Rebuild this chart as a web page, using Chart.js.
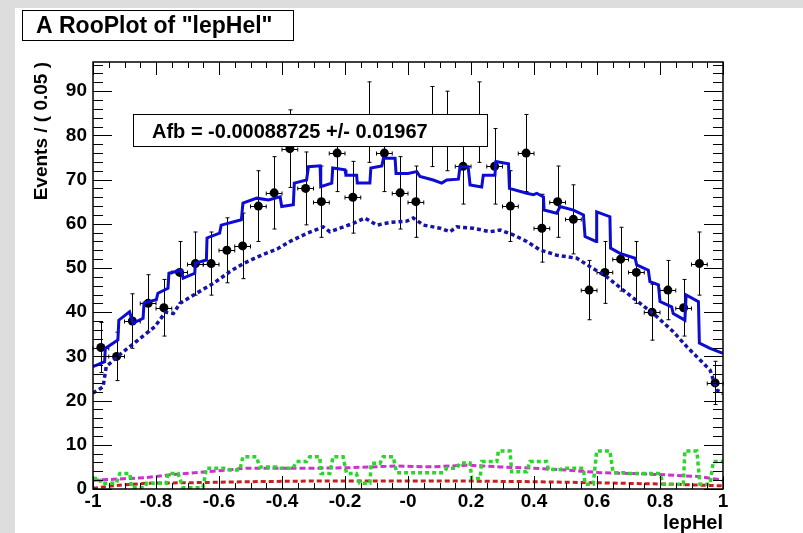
<!DOCTYPE html>
<html>
<head>
<meta charset="utf-8">
<script src="https://cdn.jsdelivr.net/npm/chart.js@4.4.1/dist/chart.umd.min.js"></script>
<style>
  html, body { margin: 0; padding: 0; width: 803px; height: 533px; overflow: hidden; background: #dddddd; }
  #pad { position: absolute; left: 15px; top: 8px; width: 788px; height: 525px; background: #fff; }
</style>
</head>
<body>
<div id="pad"><canvas id="lepHelPlot" width="788" height="525"></canvas></div>
<script>
// binned data (40 bins of 0.05 in lepHel)
const binCenters = [-0.975, -0.925, -0.875, -0.825, -0.775, -0.725, -0.675, -0.625, -0.575, -0.525,
  -0.475, -0.425, -0.375, -0.325, -0.275, -0.225, -0.175, -0.125, -0.075, -0.025,
  0.025, 0.075, 0.125, 0.175, 0.225, 0.275, 0.325, 0.375, 0.425, 0.475,
  0.525, 0.575, 0.625, 0.675, 0.725, 0.775, 0.825, 0.875, 0.925, 0.975];
const counts = [32, 30, 38, 42, 41, 49, 51, 51, 54, 55, 64, 67, 77, 68, 65, 76, 66, 83, 76, 67,
  65, 82, 81, 73, 83, 73, 64, 76, 59, 65, 61, 45, 49, 52, 49, 40, 45, 41, 51, 24];
const binWidth = 0.05;

// total pdf (solid blue)
const totalX = [-1.000, -0.963, -0.961, -0.921, -0.918, -0.884, -0.873, -0.841, -0.838, -0.799, -0.794, -0.762,
  -0.759, -0.720, -0.714, -0.677, -0.675, -0.640, -0.638, -0.598, -0.593, -0.529, -0.524, -0.480, -0.443,
  -0.406, -0.401, -0.364, -0.361, -0.322, -0.316, -0.279, -0.277, -0.242, -0.239, -0.200, -0.197, -0.163,
  -0.161, -0.121, -0.118, -0.083, -0.078, -0.041, -0.038, 0.000, 0.028, 0.038, 0.080, 0.107, 0.123, 0.160,
  0.165, 0.191, 0.197, 0.234, 0.239, 0.276, 0.279, 0.319, 0.322, 0.377, 0.398, 0.409, 0.430, 0.432, 0.472,
  0.483, 0.525, 0.557, 0.562, 0.597, 0.599, 0.641, 0.643, 0.673, 0.721, 0.726, 0.763, 0.768, 0.795, 0.800,
  0.837, 0.842, 0.879, 0.883, 0.922, 0.925, 0.959, 1.000];
const totalY = [27.7, 28.8, 31.8, 33.7, 38.2, 40.1, 37.5, 38.6, 42.1, 42.8, 44.3, 45.4,
  48.8, 49.5, 47.7, 48.8, 51.1, 51.8, 56.8, 57.9, 59.7, 60.9, 64.7, 65.8, 65.4,
  66.1, 63.9, 64.3, 69.2, 69.9, 72.9, 73.1, 68.4, 69.2, 72.6, 72.2, 71.0, 71.0,
  69.2, 69.2, 72.6, 73.1, 74.8, 74.8, 71.4, 71.4, 71.8, 70.7, 69.9, 69.2, 69.9, 70.1,
  72.9, 72.9, 68.8, 68.3, 71.0, 71.0, 74.1, 73.6, 68.0, 66.9, 66.6, 66.9, 66.1, 63.1, 62.4,
  63.9, 63.1, 62.0, 57.1, 56.0, 62.7, 61.6, 54.5, 53.3, 52.2, 50.7, 49.5, 46.9, 46.2, 42.4,
  41.2, 39.7, 38.2, 43.9, 42.4, 33.0, 31.8, 30.7];

// signal component (dotted blue)
const sigX = [-1.000, -0.968, -0.958, -0.910, -0.857, -0.804, -0.770, -0.745, -0.724, -0.671, -0.618, -0.565,
  -0.520, -0.465, -0.415, -0.375, -0.322, -0.269, -0.248, -0.216, -0.174, -0.137, -0.099, -0.057, -0.004,
  0.017, 0.049, 0.102, 0.133, 0.155, 0.207, 0.260, 0.292, 0.334, 0.377, 0.419, 0.472, 0.536, 0.578, 0.631,
  0.683, 0.737, 0.790, 0.842, 0.885, 0.927, 0.959, 0.980, 1.000];
const sigY = [21.7, 23.1, 27.7, 30.7, 33.7, 36.7, 40.0, 39.7, 42.0, 44.3, 46.5, 49.2,
  51.1, 52.9, 54.3, 56.0, 57.8, 59.3, 58.2, 59.0, 60.1, 61.3, 59.7, 60.3, 60.6,
  61.3, 59.7, 59.0, 58.2, 59.3, 59.0, 58.2, 58.6, 57.5, 56.0, 54.1, 52.9, 52.2, 50.3, 48.0,
  45.0, 42.0, 39.0, 35.6, 32.2, 29.2, 26.9, 22.4, 21.6];

// background components
const greenX = [-1.000, -0.979, -0.975, -0.926, -0.915, -0.883, -0.878, -0.836, -0.830, -0.767, -0.762, -0.730,
  -0.714, -0.651, -0.640, -0.576, -0.565, -0.534, -0.524, -0.481, -0.471, -0.418, -0.410, -0.365, -0.354,
  -0.322, -0.312, -0.280, -0.276, -0.248, -0.238, -0.206, -0.195, -0.164, -0.153, -0.121, -0.117, -0.089,
  -0.079, -0.047, -0.036, 0.112, 0.123, 0.155, 0.165, 0.197, 0.202, 0.229, 0.234, 0.282, 0.287, 0.324,
  0.329, 0.377, 0.387, 0.440, 0.446, 0.483, 0.493, 0.557, 0.562, 0.588, 0.599, 0.641, 0.651, 0.694,
  0.699, 0.800, 0.810, 0.874, 0.879, 0.917, 0.927, 0.959, 0.969, 1.000];
const greenY = [2.4, 2.4, 1.3, 1.3, 3.5, 3.5, 0.3, 0.3, 1.3, 1.3, 3.5, 3.5,
  0.3, 0.3, 4.7, 4.7, 4.3, 4.3, 7.3, 7.3, 5.0, 5.0, 4.7, 4.7, 6.2,
  6.2, 7.3, 7.3, 3.5, 3.5, 7.3, 7.3, 3.5, 3.5, 1.3, 1.3, 5.8, 5.8,
  7.3, 7.3, 3.7, 3.7, 4.7, 4.7, 5.9, 5.9, 2.4, 2.4, 6.2, 6.2, 8.6, 8.6,
  3.9, 3.9, 6.2, 6.2, 4.4, 4.4, 4.7, 4.7, 1.1, 1.1, 8.6, 8.6, 3.7, 3.7,
  3.5, 3.5, 1.1, 1.1, 8.6, 8.6, 1.1, 1.1, 6.2, 6.2];
const magX = [-1.000, -0.935, -0.830, -0.756, -0.640, -0.512, -0.301, -0.195, -0.036, 0.081, 0.186, 0.292,
  0.398, 0.504, 0.609, 0.715, 0.821, 0.927, 1.000];
const magY = [2.0, 2.2, 2.6, 3.2, 3.9, 4.7, 4.7, 4.8, 5.2, 5.0, 5.4, 5.0,
  4.7, 4.3, 3.7, 3.5, 3.2, 2.8, 2.0];
const redX = [-1.000, -0.935, -0.830, -0.724, -0.618, -0.512, -0.301, -0.089, 0.186, 0.398, 0.609, 0.821, 1.000];
const redY = [0.15, 0.75, 1.3, 1.4, 1.5, 1.65, 1.8, 1.8, 1.8, 1.65, 1.4, 1.1, 0.7];

const xTickLabels = ['-1', '-0.8', '-0.6', '-0.4', '-0.2', '-0', '0.2', '0.4', '0.6', '0.8', '1'];
const yTickLabels = ['0', '10', '20', '30', '40', '50', '60', '70', '80', '90'];

const plotTitle = 'A RooPlot of "lepHel"';
const afbText = 'Afb = -0.00088725 +/- 0.01967';
const FONT = "'Liberation Sans', Arial, Helvetica, sans-serif";

function pts(xs, ys) {
  return xs.map((v, i) => ({ x: v, y: ys[i] }));
}

function curve(xs, ys, color, dash, width) {
  return {
    data: pts(xs, ys),
    showLine: true,
    borderColor: color,
    borderWidth: width || 3,
    borderDash: dash,
    pointRadius: 0,
    fill: false,
    tension: 0,
  };
}

// data error bars go under everything
const errorBars = {
  id: 'errorBars',
  beforeDatasetsDraw(chart) {
    const { ctx, scales: { x, y } } = chart;
    ctx.save();
    ctx.strokeStyle = '#000';
    ctx.lineWidth = 1;
    ctx.beginPath();
    binCenters.forEach((c, i) => {
      const n = counts[i];
      const e = Math.sqrt(n);
      const px = Math.round(x.getPixelForValue(c)) + 0.5;
      const py = Math.round(y.getPixelForValue(n)) + 0.5;
      const top = y.getPixelForValue(n + e);
      const bot = y.getPixelForValue(n - e);
      const l = x.getPixelForValue(c - binWidth / 2);
      const r = x.getPixelForValue(c + binWidth / 2);
      ctx.moveTo(px, top); ctx.lineTo(px, bot);
      ctx.moveTo(px - 2, top); ctx.lineTo(px + 2, top);
      ctx.moveTo(px - 2, bot); ctx.lineTo(px + 2, bot);
      ctx.moveTo(l, py); ctx.lineTo(r, py);
      ctx.moveTo(l, py - 2); ctx.lineTo(l, py + 2);
      ctx.moveTo(r, py - 2); ctx.lineTo(r, py + 2);
    });
    ctx.stroke();
    ctx.restore();
  },
};

// ROOT style frame, inner ticks, title box and Afb box
const rootFrame = {
  id: 'rootFrame',
  afterDatasetsDraw(chart) {
    const { ctx, chartArea: a, scales: { x, y } } = chart;
    ctx.save();
    ctx.strokeStyle = '#000';
    ctx.lineWidth = 1;
    ctx.beginPath();
    for (let v = 0; v <= y.max; v += 2) {
      const py = Math.round(y.getPixelForValue(v)) + 0.5;
      const len = v % 10 === 0 ? 19 : 10;
      ctx.moveTo(a.left, py); ctx.lineTo(a.left + len, py);
      ctx.moveTo(a.right, py); ctx.lineTo(a.right - len, py);
    }
    for (let k = 0; k <= 40; k++) {
      const px = Math.round(x.getPixelForValue(-1 + k * 0.05)) + 0.5;
      const len = k % 4 === 0 ? 13 : 6;
      ctx.moveTo(px, a.bottom); ctx.lineTo(px, a.bottom - len);
      ctx.moveTo(px, a.top); ctx.lineTo(px, a.top + len);
    }
    ctx.stroke();
    ctx.lineWidth = 1.5;
    ctx.strokeRect(a.left, a.top, a.right - a.left, a.bottom - a.top);

    // Afb box
    ctx.lineWidth = 1;
    ctx.fillStyle = '#fff';
    ctx.fillRect(118.5, 106.5, 354, 32);
    ctx.strokeRect(118.5, 106.5, 354, 32);
    ctx.fillStyle = '#000';
    ctx.font = 'bold 20px ' + FONT;
    ctx.textBaseline = 'middle';
    ctx.textAlign = 'left';
    ctx.fillText(afbText, 137, 124);

    // title box
    ctx.fillStyle = '#fff';
    ctx.fillRect(7.5, 2.5, 271, 30);
    ctx.strokeRect(7.5, 2.5, 271, 30);
    ctx.fillStyle = '#000';
    ctx.font = 'bold 23px ' + FONT;
    ctx.fillText(plotTitle, 21, 18.5);
    ctx.restore();
  },
};

const tickFont = { family: FONT, size: 19, weight: 'bold' };

new Chart(document.getElementById('lepHelPlot'), {
  type: 'scatter',
  data: {
    datasets: [
      curve(totalX, totalY, '#0c0cd2', []),
      curve(sigX, sigY, '#1414a8', [4, 3], 3.5),
      curve(greenX, greenY, '#2ad62a', [4, 3], 3.5),
      curve(magX, magY, '#d030d0', [6, 3]),
      curve(redX, redY, '#c42020', [5, 3]),
      {
        data: pts(binCenters, counts),
        showLine: false,
        pointRadius: 4.5,
        pointBorderWidth: 0,
        backgroundColor: '#000',
        borderColor: '#000',
      },
    ],
  },
  options: {
    responsive: false,
    animation: false,
    events: [],
    layout: { padding: { left: 0, top: 54, right: 80, bottom: 0 } },
    plugins: {
      legend: { display: false },
      title: { display: false },
      tooltip: { enabled: false },
    },
    scales: {
      x: {
        type: 'linear',
        min: -1,
        max: 1,
        grid: { display: false, drawTicks: false, tickLength: 0 },
        border: { display: false },
        ticks: {
          stepSize: 0.2,
          autoSkip: false,
          maxRotation: 0,
          padding: 1,
          color: '#000',
          font: tickFont,
          callback: (v, i) => xTickLabels[i],
        },
        title: {
          display: true,
          text: 'lepHel',
          align: 'end',
          color: '#000',
          font: { family: FONT, size: 20, weight: 'bold', lineHeight: 1 },
          padding: { top: 0, bottom: 0 },
        },
        afterFit: (s) => { s.height = 44; },
      },
      y: {
        type: 'linear',
        min: 0,
        max: 96.6,
        grid: { display: false, drawTicks: false, tickLength: 0 },
        border: { display: false },
        ticks: {
          stepSize: 10,
          includeBounds: false,
          padding: 6,
          color: '#000',
          font: tickFont,
          callback: (v, i) => yTickLabels[i],
        },
        title: {
          display: true,
          text: 'Events / ( 0.05 )',
          align: 'end',
          color: '#000',
          font: { family: FONT, size: 19, weight: 'bold' },
          padding: { top: 15, bottom: 0 },
        },
        afterFit: (s) => { s.width = 78; },
      },
    },
  },
  plugins: [errorBars, rootFrame],
});
</script>
</body>
</html>
